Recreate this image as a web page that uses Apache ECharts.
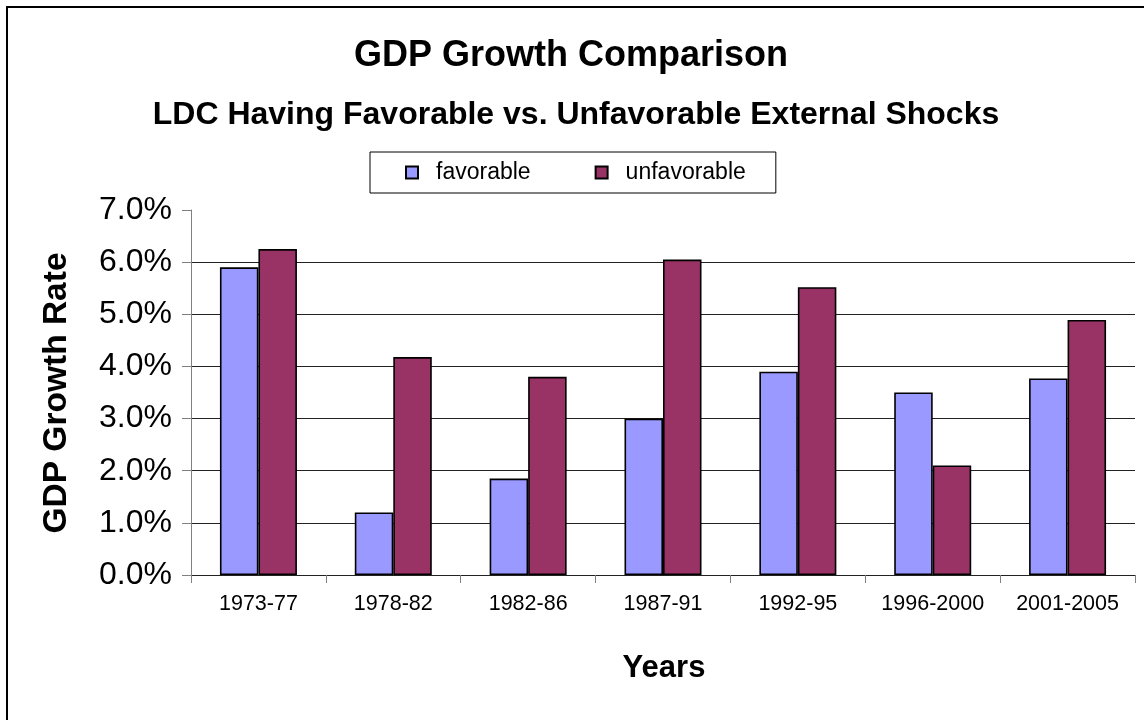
<!DOCTYPE html>
<html>
<head>
<meta charset="utf-8">
<script src="https://cdn.jsdelivr.net/npm/echarts@6/dist/echarts.min.js"></script>
<style>
    html, body { margin: 0; padding: 0; background: #fff; }
    #chart { width: 1144px; height: 720px; }
</style>
</head>
<body>
<div id="chart"></div>
<script>
    // 数据
    var categories = ['1973-77', '1978-82', '1982-86', '1987-91', '1992-95', '1996-2000', '2001-2005'];
    var favorable = [5.9, 1.2, 1.85, 3.0, 3.9, 3.5, 3.77];     // %
    var unfavorable = [6.25, 4.18, 3.8, 6.05, 5.52, 2.1, 4.89]; // %
    var yMin = 0, yMax = 7, yStep = 1;

    var FONT = "'Liberation Sans', Arial, sans-serif";
    var chart = echarts.init(document.getElementById('chart'));

    var option = {
        backgroundColor: '#fff',
        animation: false,
        textStyle: { fontFamily: FONT, color: '#000' },
        grid: { left: 191, right: 9, top: 210, bottom: 145 },
        legend: {
            left: 370, top: 152,
            orient: 'horizontal',
            borderColor: '#000', borderWidth: 1,
            padding: [9, 30, 9, 35],
            itemGap: 64,
            itemWidth: 12, itemHeight: 12,
            icon: 'rect',
            textStyle: { fontFamily: FONT, fontSize: 23, color: '#000', padding: [0, 0, 0, 13] },
            data: ['favorable', 'unfavorable']
        },
        xAxis: {
            type: 'category',
            data: categories,
            axisLine: { lineStyle: { color: '#222', width: 1 } },
            axisTick: { show: true, interval: 0, length: 8, lineStyle: { color: '#808080' } },
            axisLabel: { interval: 0, margin: 18, fontSize: 21.5, color: '#000', fontFamily: FONT }
        },
        yAxis: {
            type: 'value',
            min: yMin, max: yMax, interval: yStep,
            axisLine: { show: true, lineStyle: { color: '#808080', width: 1 } },
            axisTick: { show: true, length: 9, lineStyle: { color: '#808080' } },
            splitLine: { show: true, showMaxLine: false, lineStyle: { color: '#222', width: 1 } },
            axisLabel: {
                margin: 19, fontSize: 32, color: '#000', fontFamily: FONT,
                formatter: function (v) { return v.toFixed(1) + '%'; }
            }
        },
        series: [
            {
                name: 'favorable', type: 'bar', data: favorable,
                barWidth: 38.5, barGap: '0%',
                itemStyle: { color: '#9999FF', borderColor: '#000', borderWidth: 1.6 }
            },
            {
                name: 'unfavorable', type: 'bar', data: unfavorable,
                barWidth: 38.5, barGap: '0%',
                itemStyle: { color: '#993366', borderColor: '#000', borderWidth: 1.6 }
            }
        ],
        graphic: [
            // 外框
            { type: 'rect', silent: true, shape: { x: 7, y: 7, width: 1300, height: 900 },
              style: { fill: 'none', stroke: '#000', lineWidth: 2 } },
            { type: 'text', x: 571, y: 56,
              style: { text: 'GDP Growth Comparison', fontFamily: FONT, fontWeight: 'bold', fontSize: 36,
                       fill: '#000', textAlign: 'center', textVerticalAlign: 'middle' } },
            { type: 'text', x: 576, y: 115,
              style: { text: 'LDC Having Favorable vs. Unfavorable External Shocks', fontFamily: FONT,
                       fontWeight: 'bold', fontSize: 32, fill: '#000', textAlign: 'center', textVerticalAlign: 'middle' } },
            { type: 'text', x: 57, y: 393, rotation: Math.PI / 2,
              style: { text: 'GDP Growth Rate', fontFamily: FONT, fontWeight: 'bold', fontSize: 33.5,
                       fill: '#000', textAlign: 'center', textVerticalAlign: 'middle' } },
            { type: 'text', x: 664, y: 668,
              style: { text: 'Years', fontFamily: FONT, fontWeight: 'bold', fontSize: 31,
                       fill: '#000', textAlign: 'center', textVerticalAlign: 'middle' } }
        ]
    };
    chart.setOption(option);
</script>
</body>
</html>
